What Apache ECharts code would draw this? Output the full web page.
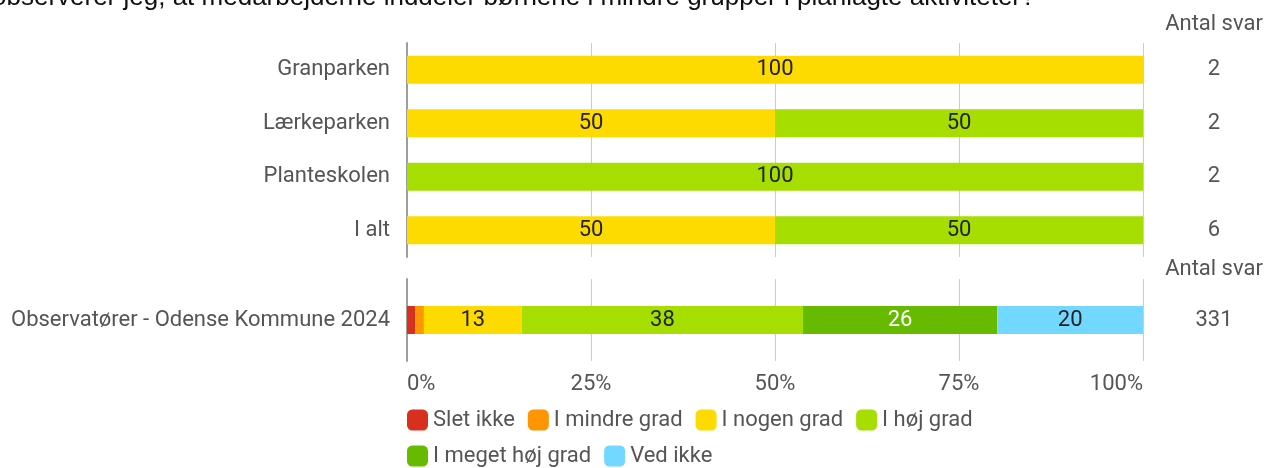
<!DOCTYPE html>
<html>
<head>
<meta charset="utf-8">
<script src="https://cdn.jsdelivr.net/npm/echarts@6/dist/echarts.min.js"></script>
<style>
  html, body { margin: 0; padding: 0; background: #fff; }
  #main { width: 1266px; height: 468px; }
</style>
</head>
<body>
<div id="main"></div>
<script>
// data
const titleText = 'observerer jeg, at medarbejderne inddeler børnene i mindre grupper i planlagte aktiviteter?';
const levels = ['Slet ikke', 'I mindre grad', 'I nogen grad', 'I høj grad', 'I meget høj grad', 'Ved ikke'];
const colors = ['#d7301f', '#ff9500', '#fedb00', '#a5de00', '#66bb00', '#72d8ff'];

const places = ['Granparken', 'Lærkeparken', 'Planteskolen', 'I alt'];
const placeCounts = ['2', '2', '2', '6'];
// one array per level, in the order of places
const placeValues = [
  [0, 0, 0, 0],
  [0, 0, 0, 0],
  [100, 50, 0, 50],
  [0, 50, 100, 50],
  [0, 0, 0, 0],
  [0, 0, 0, 0]
];

const totalName = ['Observatører - Odense Kommune 2024'];
const totalCount = ['331'];
const totalValues = [1.1, 1.2, 13.3, 38.2, 26.4, 19.8];

const font = 'Roboto, sans-serif';
const gray = '#555';
const fs = 22;

const myChart = echarts.init(document.getElementById('main'));

function barLabel(i) {
  return {
    show: true,
    position: 'inside',
    fontFamily: font,
    fontSize: fs,
    color: i === 4 ? '#fff' : '#222',
    formatter: function (p) {
      return p.value >= 5 ? Math.round(p.value) : '';
    }
  };
}

const series = [];
levels.forEach(function (name, i) {
  series.push({
    name: name,
    type: 'bar',
    stack: 'a',
    xAxisIndex: 0,
    yAxisIndex: 0,
    barWidth: 28,
    itemStyle: { color: colors[i] },
    label: barLabel(i),
    data: placeValues[i]
  });
});
levels.forEach(function (name, i) {
  series.push({
    name: name,
    type: 'bar',
    stack: 'b',
    xAxisIndex: 1,
    yAxisIndex: 2,
    barWidth: 28,
    itemStyle: { color: colors[i] },
    label: barLabel(i),
    data: [totalValues[i]]
  });
});

const catAxis = {
  type: 'category',
  inverse: true,
  axisLine: { show: true, lineStyle: { color: '#9e9e9e', width: 2 } },
  axisTick: { show: false },
  axisLabel: { fontFamily: font, fontSize: fs, color: gray, margin: 17 }
};

function countAxis(gridIndex, data, gap) {
  return {
    type: 'category',
    gridIndex: gridIndex,
    inverse: true,
    position: 'right',
    data: data,
    name: 'Antal svar',
    nameLocation: 'start',
    nameGap: gap,
    nameTextStyle: { fontFamily: font, fontSize: fs, color: gray, padding: [0, 0, 0, 142] },
    axisLine: { show: false },
    axisTick: { show: false },
    axisLabel: { fontFamily: font, fontSize: fs, color: gray, margin: 71, align: 'center' }
  };
}

const legendBase = {
  left: 407,
  padding: 0,
  icon: 'roundRect',
  itemWidth: 21,
  itemHeight: 21,
  itemGap: 13,
  textStyle: { fontFamily: font, fontSize: fs, color: gray }
};

const option = {
  animation: false,
  title: {
    text: titleText,
    left: -8,
    top: -15,
    padding: 0,
    textStyle: { fontFamily: 'Liberation Sans, Arial, sans-serif', fontSize: 26, fontWeight: 'normal', color: '#111' }
  },
  legend: [
    Object.assign({}, legendBase, { data: levels.slice(0, 4), top: 409 }),
    Object.assign({}, legendBase, { data: levels.slice(4), top: 445 })
  ],
  grid: [
    { left: 407, right: 123, top: 43, height: 214 },
    { left: 407, right: 123, top: 279, height: 82 }
  ],
  xAxis: [
    {
      type: 'value',
      gridIndex: 0,
      min: 0,
      max: 100,
      interval: 25,
      axisLabel: { show: false },
      axisLine: { show: false },
      axisTick: { show: false },
      splitLine: { lineStyle: { color: '#ccc' } }
    },
    {
      type: 'value',
      gridIndex: 1,
      min: 0,
      max: 100,
      interval: 25,
      axisLine: { show: false },
      axisTick: { show: false },
      splitLine: { lineStyle: { color: '#ccc' } },
      axisLabel: {
        fontFamily: font,
        fontSize: fs,
        color: gray,
        margin: 12,
        formatter: '{value}%',
        alignMinLabel: 'left',
        alignMaxLabel: 'right'
      }
    }
  ],
  yAxis: [
    Object.assign({}, catAxis, { gridIndex: 0, data: places }),
    countAxis(0, placeCounts, 8),
    Object.assign({}, catAxis, { gridIndex: 1, data: totalName }),
    countAxis(1, totalCount, -1)
  ],
  series: series
};

myChart.setOption(option);
</script>
</body>
</html>
